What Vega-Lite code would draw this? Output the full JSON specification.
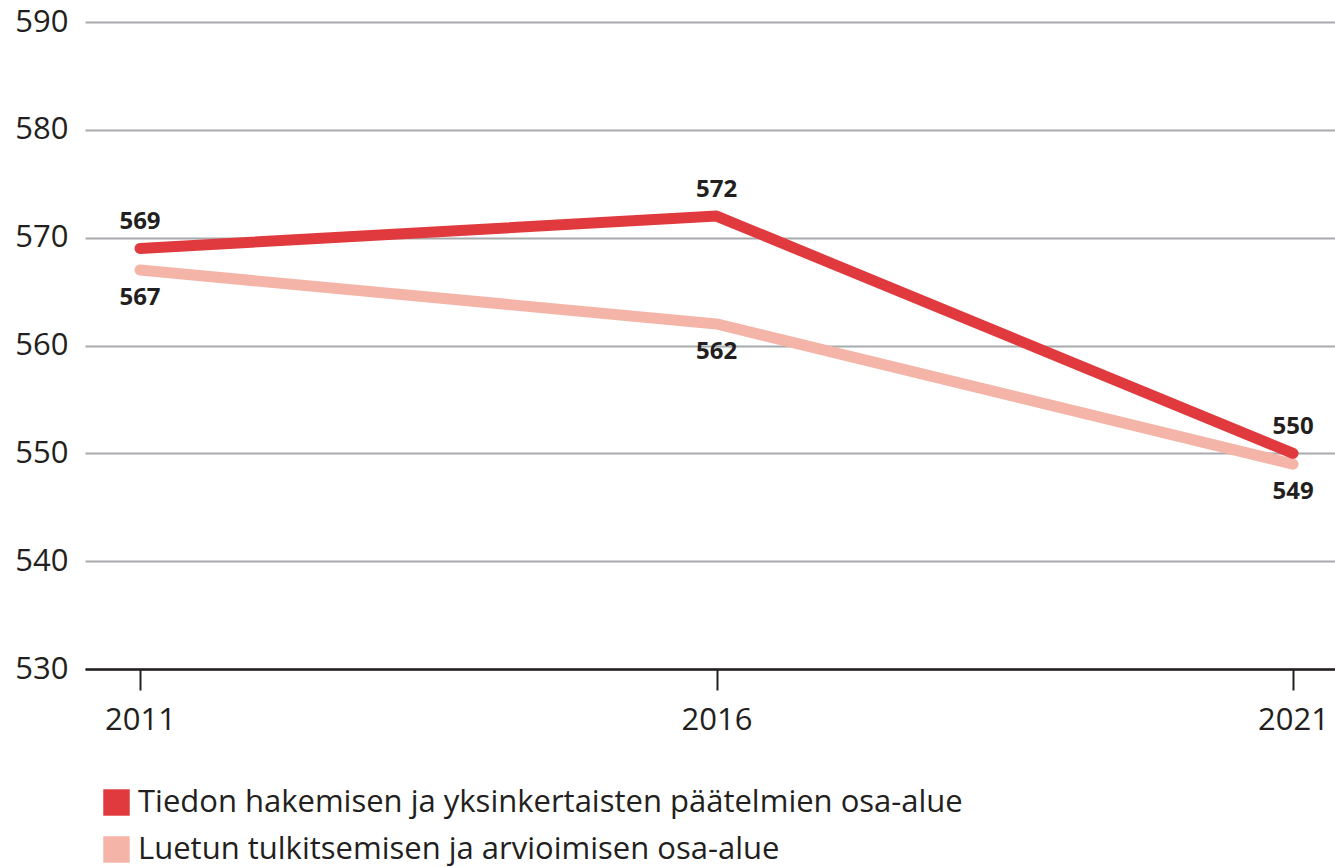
{
  "$schema": "https://vega.github.io/schema/vega-lite/v6.json",
  "autosize": "none",
  "width": 1250,
  "height": 647,
  "padding": {"left": 85, "top": 22, "right": 0, "bottom": 198},
  "background": "white",
  "config": {
    "view": {"stroke": null},
    "font": "Open Sans"
  },
  "data": {
    "values": [
      {"vuosi": 2011, "arvo": 569, "sarja": "Tiedon hakemisen ja yksinkertaisten päätelmien osa-alue"},
      {"vuosi": 2016, "arvo": 572, "sarja": "Tiedon hakemisen ja yksinkertaisten päätelmien osa-alue"},
      {"vuosi": 2021, "arvo": 550, "sarja": "Tiedon hakemisen ja yksinkertaisten päätelmien osa-alue"},
      {"vuosi": 2011, "arvo": 567, "sarja": "Luetun tulkitsemisen ja arvioimisen osa-alue"},
      {"vuosi": 2016, "arvo": 562, "sarja": "Luetun tulkitsemisen ja arvioimisen osa-alue"},
      {"vuosi": 2021, "arvo": 549, "sarja": "Luetun tulkitsemisen ja arvioimisen osa-alue"}
    ]
  },
  "encoding": {
    "x": {
      "field": "vuosi", "type": "quantitative",
      "scale": {"domain": [2010.523, 2021.364], "nice": false, "zero": false},
      "axis": {
        "values": [2011, 2016, 2021], "format": "d", "title": null,
        "grid": false, "domainColor": "#231f20", "domainWidth": 2.5,
        "tickColor": "#231f20", "tickWidth": 2, "tickSize": 21,
        "labelFontSize": 31, "labelColor": "#231f20", "labelPadding": 15,
        "labelFont": "Open Sans"
      }
    },
    "y": {
      "field": "arvo", "type": "quantitative",
      "scale": {"domain": [530, 590], "nice": false, "zero": false},
      "axis": {
        "values": [530, 540, 550, 560, 570, 580, 590], "title": null,
        "grid": true, "gridColor": "#a7a9ac", "gridWidth": 2,
        "domain": false, "ticks": false,
        "labelFontSize": 31, "labelColor": "#231f20", "labelPadding": 17,
        "labelFont": "Open Sans"
      }
    }
  },
  "layer": [
    {
      "transform": [{"filter": "datum.sarja === 'Luetun tulkitsemisen ja arvioimisen osa-alue'"}],
      "mark": {"type": "line", "strokeWidth": 11, "strokeCap": "round", "strokeJoin": "round"},
      "encoding": {
        "color": {
          "field": "sarja", "type": "nominal",
          "scale": {
            "domain": ["Tiedon hakemisen ja yksinkertaisten päätelmien osa-alue", "Luetun tulkitsemisen ja arvioimisen osa-alue"],
            "range": ["#e03a3e", "#f4b5a8"]
          },
          "legend": {
            "title": null, "orient": "none", "legendX": 16, "legendY": 765,
            "symbolType": "square", "symbolSize": 700,
            "labelFontSize": 31, "labelColor": "#231f20", "labelFont": "Open Sans",
            "rowPadding": 15, "labelOffset": 6, "padding": 0, "labelLimit": 1000,
            "symbolOpacity": 1,
            "encode": {
              "symbols": {
                "update": {
                  "fill": {"scale": "color", "field": "value"},
                  "strokeWidth": {"value": 0},
                  "opacity": {"value": 1}
                }
              }
            }
          }
        }
      }
    },
    {
      "transform": [{"filter": "datum.sarja === 'Tiedon hakemisen ja yksinkertaisten päätelmien osa-alue'"}],
      "mark": {"type": "line", "strokeWidth": 11, "strokeCap": "round", "strokeJoin": "round"},
      "encoding": {"color": {"field": "sarja", "type": "nominal"}}
    },
    {
      "transform": [{"filter": "datum.sarja === 'Tiedon hakemisen ja yksinkertaisten päätelmien osa-alue'"}],
      "mark": {"type": "text", "dy": -26, "fontSize": 24, "fontWeight": "bold", "color": "#231f20", "font": "Open Sans"},
      "encoding": {"text": {"field": "arvo", "type": "quantitative"}}
    },
    {
      "transform": [{"filter": "datum.sarja === 'Luetun tulkitsemisen ja arvioimisen osa-alue'"}],
      "mark": {"type": "text", "dy": 28, "fontSize": 24, "fontWeight": "bold", "color": "#231f20", "font": "Open Sans"},
      "encoding": {"text": {"field": "arvo", "type": "quantitative"}}
    }
  ]
}
